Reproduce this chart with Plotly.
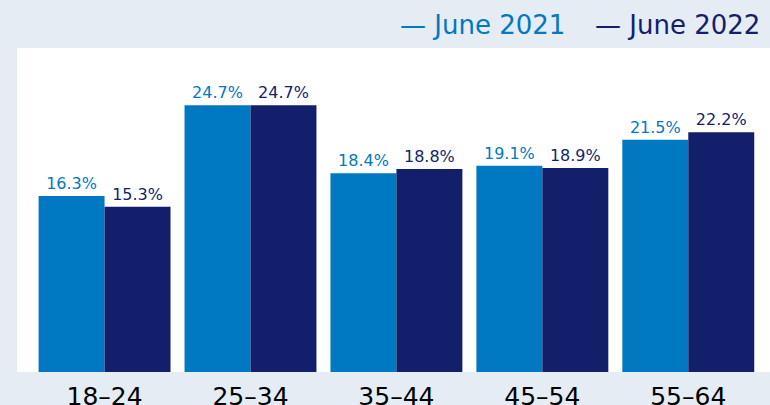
import plotly.graph_objects as go

categories = ["18–24", "25–34", "35–44", "45–54", "55–64"]
june_2021 = [16.3, 24.7, 18.4, 19.1, 21.5]
june_2022 = [15.3, 24.7, 18.8, 18.9, 22.2]
series_names = ["June 2021", "June 2022"]

c1 = "#0079c2"
c2 = "#131f6b"
bg = "#e5ecf4"

fig = go.Figure()
for name, vals, col in [(series_names[0], june_2021, c1), (series_names[1], june_2022, c2)]:
    fig.add_trace(go.Bar(
        x=categories, y=vals, name=name,
        marker=dict(color=col, line=dict(width=0)),
        text=[f"{v:.1f}%" for v in vals],
        textposition="outside",
        textfont=dict(family="DejaVu Sans", size=16, color=col),
        cliponaxis=False,
        showlegend=False,
    ))

W, H = 770, 405
ml, mr, mt, mb = 17, 0, 48, 33
pw = W - ml - mr
ph = H - mt - mb

def px_x(p):
    return (p - ml) / pw

def px_y(p):
    return 1 + (mt - p) / ph

fig.add_annotation(text="— " + series_names[0], xref="paper", yref="paper",
                   x=px_x(398), y=px_y(25), xanchor="left", yanchor="middle",
                   showarrow=False, font=dict(family="DejaVu Sans", size=26, color=c1))
fig.add_annotation(text="— " + series_names[1], xref="paper", yref="paper",
                   x=px_x(593), y=px_y(25), xanchor="left", yanchor="middle",
                   showarrow=False, font=dict(family="DejaVu Sans", size=26, color=c2))

fig.update_layout(
    width=W, height=H,
    margin=dict(l=ml, r=mr, t=mt, b=mb, pad=0),
    paper_bgcolor=bg, plot_bgcolor="white",
    barmode="group", bargap=0.096, bargroupgap=0,
    showlegend=False,
    font=dict(family="DejaVu Sans"),
)
fig.update_xaxes(range=[-0.6, 4.56], showgrid=False, zeroline=False, showline=False,
                 ticks="", automargin=False, ticklabelstandoff=7,
                 tickfont=dict(family="DejaVu Sans", size=25, color="black"))
fig.update_yaxes(range=[0, 30], showgrid=False, zeroline=False, showline=False,
                 showticklabels=False, ticks="", automargin=False)

fig.write_html("out.html", config={"displayModeBar": False},
               post_script="document.body.style.margin='0';")
